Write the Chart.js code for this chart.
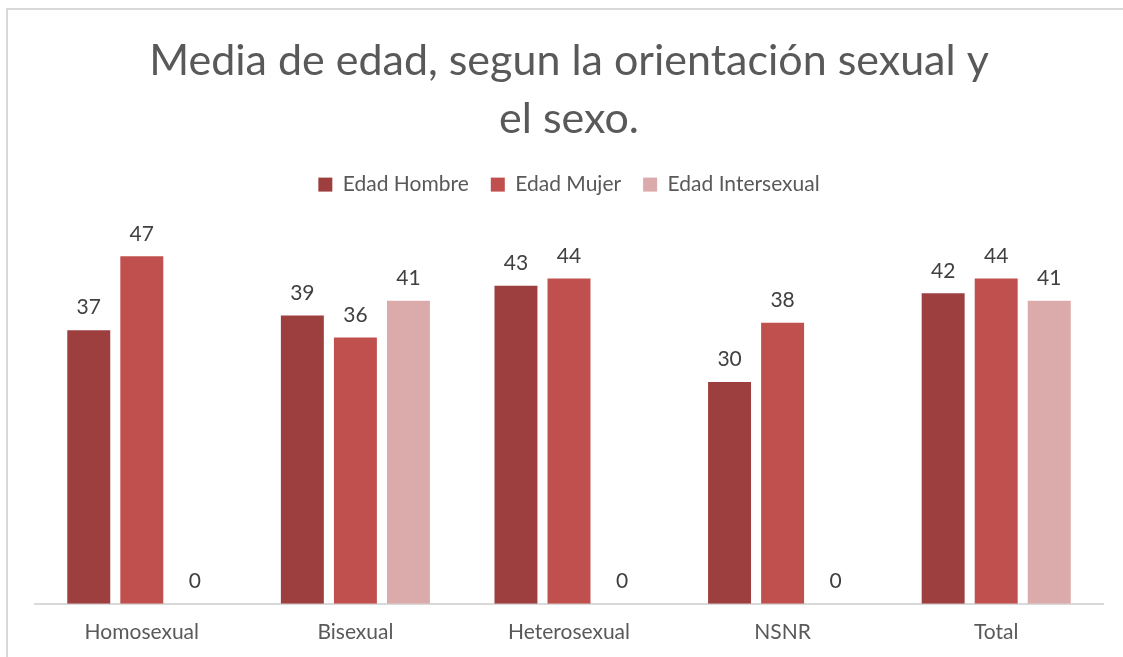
<!DOCTYPE html>
<html>
<head>
<meta charset="utf-8">
<script src="https://cdn.jsdelivr.net/npm/chart.js@4"></script>
<style>
  html, body { margin: 0; padding: 0; background: #fff; overflow: hidden; }
  #marco {
    position: absolute; left: 6px; top: 8px; width: 1140px; height: 680px;
    border: 2px solid #d9d9d9; box-sizing: border-box;
  }
  #wrap { position: absolute; left: 0; top: 0; width: 1123px; height: 657px; }
</style>
</head>
<body>
<div id="marco"></div>
<div id="wrap"><canvas id="grafico"></canvas></div>
<script>
// Datos del gráfico
const categorias = ['Homosexual', 'Bisexual', 'Heterosexual', 'NSNR', 'Total'];
const edadHombre = [37, 39, 43, 30, 42];
const edadMujer = [47, 36, 44, 38, 44];
const edadIntersexual = [0, 41, 0, 0, 41];
const titulo = ['Media de edad, segun la orientación sexual y', 'el sexo.'];

const FUENTE = 'Lato, "Open Sans", sans-serif';

// Etiquetas de valor encima de cada barra
const etiquetasValor = {
    id: 'etiquetasValor',
    afterDatasetsDraw(chart) {
        const ctx = chart.ctx;
        ctx.save();
        ctx.font = '21px ' + FUENTE;
        ctx.fillStyle = '#404040';
        ctx.textAlign = 'center';
        ctx.textBaseline = 'bottom';
        chart.data.datasets.forEach((ds, i) => {
            chart.getDatasetMeta(i).data.forEach((bar, j) => {
                ctx.fillText(ds.data[j], bar.x, bar.y - 12);
            });
        });
        ctx.restore();
    }
};

// Espacio extra debajo de la leyenda
const espacioLeyenda = {
    id: 'espacioLeyenda',
    beforeInit(chart) {
        const fitOriginal = chart.legend.fit;
        chart.legend.fit = function() {
            fitOriginal.bind(chart.legend)();
            this.height += 29;
        };
    }
};

new Chart(document.getElementById('grafico'), {
    type: 'bar',
    data: {
        labels: categorias,
        datasets: [
            { label: 'Edad Hombre', data: edadHombre, backgroundColor: '#9e3f3f' },
            { label: 'Edad Mujer', data: edadMujer, backgroundColor: '#c0504d' },
            { label: 'Edad Intersexual', data: edadIntersexual, backgroundColor: '#dbaaaa' }
        ]
    },
    options: {
        responsive: true,
        maintainAspectRatio: false,
        animation: false,
        categoryPercentage: 0.745,
        barPercentage: 0.81,
        layout: { padding: { left: 35, right: 20, top: 32, bottom: 4 } },
        scales: {
            y: { display: false, min: 0, max: 50 },
            x: {
                grid: { display: false },
                border: { color: '#d9d9d9', width: 2 },
                ticks: { color: '#595959', font: { size: 21, family: FUENTE }, padding: 8 }
            }
        },
        plugins: {
            title: {
                display: true,
                text: titulo,
                color: '#595959',
                font: { size: 43, weight: 'normal', family: FUENTE, lineHeight: 1.35 },
                padding: { top: 0, bottom: 4 }
            },
            legend: {
                position: 'top',
                labels: {
                    color: '#595959',
                    font: { size: 21, family: FUENTE },
                    boxWidth: 14,
                    boxHeight: 14,
                    padding: 22
                }
            },
            tooltip: { enabled: false }
        }
    },
    plugins: [etiquetasValor, espacioLeyenda]
});
</script>
</body>
</html>
